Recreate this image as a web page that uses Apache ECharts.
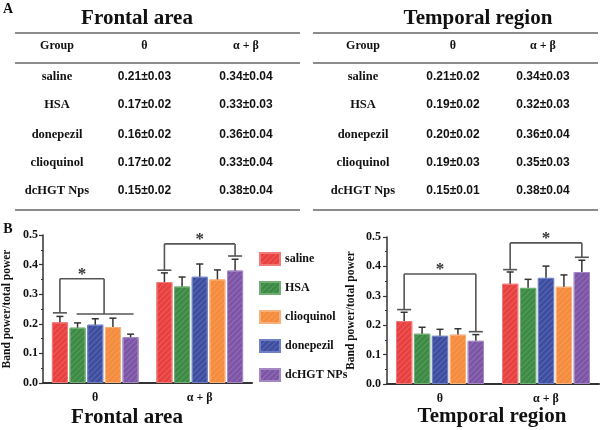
<!DOCTYPE html>
<html><head><meta charset="utf-8">
<script src="https://cdn.jsdelivr.net/npm/echarts@6/dist/echarts.min.js"></script>
<style>html,body{margin:0;padding:0;background:#fff}#c{width:600px;height:430px}</style>
</head><body><div id="c"></div>
<script>
// ---------- data ----------
const groups = ['saline', 'HSA', 'donepezil', 'clioquinol', 'dcHGT NPs'];      // bar order
const legendOrder = ['saline', 'HSA', 'clioquinol', 'donepezil', 'dcHGT NPs'];
const bands = ['θ', 'α + β'];
const colors = ['#e8403f', '#3c8a43', '#3d4ea0', '#f58b3c', '#7d55a6'];
const borderColors = ['#f07a78', '#6fae74', '#7180c4', '#f8b07a', '#a488c4'];

// bar chart values, per group: [θ, α+β]
const frontalMean = [[0.205, 0.341], [0.187, 0.326], [0.197, 0.359], [0.189, 0.350], [0.155, 0.380]];
const frontalErr  = [[0.020, 0.031], [0.016, 0.032], [0.020, 0.043], [0.030, 0.032], [0.010, 0.038]];
const temporalMean = [[0.214, 0.341], [0.171, 0.327], [0.164, 0.361], [0.168, 0.331], [0.147, 0.381]];
const temporalErr  = [[0.030, 0.040], [0.022, 0.029], [0.022, 0.040], [0.020, 0.040], [0.021, 0.040]];

// significance brackets: [category, leftBar, leftY, rightBarFrom, rightBarTo, rightY, topY]
const frontalSig  = [[0, 0, 0.237, 1, 4, 0.233, 0.352], [1, 0, 0.381, 4, 4, 0.429, 0.470]];
const temporalSig = [[0, 0, 0.253, 4, 4, 0.178, 0.374], [1, 0, 0.389, 4, 4, 0.431, 0.480]];

const yTicks = [0, 0.1, 0.2, 0.3, 0.4, 0.5];

// tables
const tableGroups = ['saline', 'HSA', 'donepezil', 'clioquinol', 'dcHGT Nps'];
const tableHeader = ['Group', 'θ', 'α + β'];
const tFrontalThetaM = [0.21, 0.17, 0.16, 0.17, 0.15];
const tFrontalThetaS = [0.03, 0.02, 0.02, 0.02, 0.02];
const tFrontalABM = [0.34, 0.33, 0.36, 0.33, 0.38];
const tFrontalABS = [0.04, 0.03, 0.04, 0.04, 0.04];
const tTemporalThetaM = [0.21, 0.19, 0.20, 0.19, 0.15];
const tTemporalThetaS = [0.02, 0.02, 0.02, 0.03, 0.01];
const tTemporalABM = [0.34, 0.32, 0.36, 0.35, 0.38];
const tTemporalABS = [0.03, 0.03, 0.04, 0.03, 0.04];

// ---------- layout / style ----------
const SERIF = 'Liberation Serif';
const SANS = 'Liberation Sans';
const INK = '#111';
const CAT_GAP = 0.17, BAR_GAP = 0.10, N = groups.length;

function barCenter(api, cat, i) {
  const c = api.coord([cat, 0])[0];
  const band = api.size([1, 0])[0];
  const usable = band * (1 - CAT_GAP);
  const bw = usable / (N + (N - 1) * BAR_GAP);
  return c - usable / 2 + i * bw * (1 + BAR_GAP) + bw / 2;
}

function txt(text, x, y, font, align) {
  return { type: 'text', silent: true, style: { text, x, y, font, fill: INK,
    align: align || 'center', verticalAlign: 'middle', textAlign: align || 'center', textVerticalAlign: 'middle' } };
}
function hline(x1, x2, y) {
  return { type: 'line', silent: true, shape: { x1, y1: y, x2, y2: y }, style: { stroke: '#8c8c8c', lineWidth: 2 } };
}
const fmt = (m, s) => m.toFixed(2) + '±' + s.toFixed(2);

function table(x1, x2, cols, rowYs, titleText, titleX, thM, thS, abM, abS) {
  const els = [];
  els.push(txt(titleText, titleX, 19, 'bold 21px ' + SERIF));
  els.push(hline(x1, x2, 33), hline(x1, x2, 63), hline(x1, x2, 210));
  tableHeader.forEach((h, k) => els.push(txt(h, cols[k], 46, 'bold 12px ' + SERIF)));
  tableGroups.forEach((g, r) => {
    els.push(txt(g, cols[0], rowYs[r], 'bold 12.5px ' + SERIF));
    els.push(txt(fmt(thM[r], thS[r]), cols[1], rowYs[r], 'bold 12px ' + SANS));
    els.push(txt(fmt(abM[r], abS[r]), cols[2], rowYs[r], 'bold 12px ' + SANS));
  });
  return els;
}
const rowYs = [77, 105, 134.5, 162.7, 190.7];

const graphics = [].concat(
  [txt('A', 8, 9, 'bold 14px ' + SERIF), txt('B', 8, 229, 'bold 14px ' + SERIF)],
  table(15, 300, [57, 144.5, 246], rowYs, 'Frontal area', 137, tFrontalThetaM, tFrontalThetaS, tFrontalABM, tFrontalABS),
  table(313, 598, [363, 453, 543], rowYs, 'Temporal region', 478, tTemporalThetaM, tTemporalThetaS, tTemporalABM, tTemporalABS),
  [txt('Frontal area', 127, 418, 'bold 21px ' + SERIF), txt('Temporal region', 492, 417, 'bold 21px ' + SERIF)]
);

function yAxis(gi, margin) {
  return {
    gridIndex: gi, type: 'value', min: yTicks[0], max: yTicks[yTicks.length - 1], interval: 0.1,
    name: 'Band power/total power', nameLocation: 'middle', nameGap: 30,
    nameTextStyle: { fontFamily: SERIF, fontWeight: 'bold', fontSize: 11.5, color: INK },
    axisLine: { show: true, lineStyle: { color: '#333', width: 1.5 } },
    axisTick: { show: true, length: 4, lineStyle: { color: '#333', width: 1.2 } },
    minorTick: { show: true, splitNumber: 2, length: 2, lineStyle: { color: '#333' } },
    splitLine: { show: false },
    axisLabel: { margin, fontFamily: SERIF, fontWeight: 'bold', fontSize: 12, color: INK, formatter: v => v.toFixed(1) }
  };
}
function xAxis(gi) {
  return {
    gridIndex: gi, type: 'category', data: bands,
    axisLine: { lineStyle: { color: '#333', width: 2 } }, axisTick: { show: false },
    axisLabel: { margin: 9, fontFamily: SERIF, fontWeight: 'bold', fontSize: 12, color: INK }
  };
}

function barSeries(gi, means) {
  return groups.map((g, i) => ({
    type: 'bar', name: g, xAxisIndex: gi, yAxisIndex: gi,
    barCategoryGap: (CAT_GAP * 100) + '%', barGap: (BAR_GAP * 100) + '%',
    data: means[i],
    itemStyle: { color: colors[i], borderColor: borderColors[i], borderWidth: 1,
      decal: { symbol: 'rect', symbolSize: 1, color: 'rgba(255,255,255,0.15)', dashArrayX: [1, 0], dashArrayY: [1, 3], rotation: -Math.PI / 4 } },
    silent: true
  }));
}

function errSeries(gi, means, errs) {
  const data = [];
  means.forEach((row, i) => row.forEach((m, c) => data.push([c, i, m, m + errs[i][c]])));
  return {
    type: 'custom', xAxisIndex: gi, yAxisIndex: gi, silent: true, z: 5,
    data, encode: { x: 0, y: 3 },
    renderItem(params, api) {
      const cat = api.value(0), i = api.value(1);
      const x = barCenter(api, cat, i);
      const y0 = api.coord([cat, api.value(2)])[1];
      const y1 = api.coord([cat, api.value(3)])[1];
      const st = { stroke: '#333', lineWidth: 1.5 };
      return { type: 'group', children: [
        { type: 'line', shape: { x1: x, y1: y0, x2: x, y2: y1 }, style: st },
        { type: 'line', shape: { x1: x - 3.5, y1: y1, x2: x + 3.5, y2: y1 }, style: st }
      ] };
    }
  };
}

function sigSeries(gi, sig) {
  return {
    type: 'custom', xAxisIndex: gi, yAxisIndex: gi, silent: true, z: 6,
    data: sig, encode: { x: 0, y: 6 },
    renderItem(params, api) {
      const cat = api.value(0);
      const st = { stroke: '#555', lineWidth: 1.6 };
      const Y = v => api.coord([cat, v])[1];
      const xl = barCenter(api, cat, api.value(1));
      const rf = api.value(3), rt = api.value(4);
      const xrf = barCenter(api, cat, rf), xrt = barCenter(api, cat, rt);
      const xr = (xrf + xrt) / 2;
      const yl = Y(api.value(2)), yr = Y(api.value(5)), yt = Y(api.value(6));
      const ch = [
        { type: 'line', shape: { x1: xl - 7, y1: yl, x2: xl + 7, y2: yl }, style: st },
        { type: 'line', shape: { x1: xl, y1: yl, x2: xl, y2: yt }, style: st },
        { type: 'line', shape: { x1: xl, y1: yt, x2: xr, y2: yt }, style: st },
        { type: 'line', shape: { x1: xr, y1: yt, x2: xr, y2: yr }, style: st },
        rf === rt
          ? { type: 'line', shape: { x1: xr - 7, y1: yr, x2: xr + 7, y2: yr }, style: st }
          : { type: 'line', shape: { x1: xrf - 1, y1: yr, x2: xrt + 3, y2: yr }, style: st },
        { type: 'text', style: { text: '*', x: (xl + xr) / 2, y: yt - 4, font: 'bold 17px ' + SERIF, fill: '#333',
          align: 'center', verticalAlign: 'middle', textAlign: 'center', textVerticalAlign: 'middle' } }
      ];
      return { type: 'group', children: ch };
    }
  };
}

const chart = echarts.init(document.getElementById('c'), null, { renderer: 'canvas' });
chart.setOption({
  animation: false,
  backgroundColor: '#fff',
  graphic: graphics,
  legend: {
    data: legendOrder, orient: 'vertical', left: 254, top: 247,
    itemWidth: 20, itemHeight: 12, itemGap: 15, icon: 'rect', selectedMode: false,
    textStyle: { fontFamily: SERIF, fontWeight: 'bold', fontSize: 12, color: INK }
  },
  grid: [
    { left: 42, right: 348, top: 235, bottom: 47 },
    { left: 387, right: 1, top: 237, bottom: 46 }
  ],
  xAxis: [xAxis(0), xAxis(1)],
  yAxis: [yAxis(0, 5), yAxis(1, 6)],
  series: [].concat(
    barSeries(0, frontalMean), barSeries(1, temporalMean),
    [errSeries(0, frontalMean, frontalErr), errSeries(1, temporalMean, temporalErr),
     sigSeries(0, frontalSig), sigSeries(1, temporalSig)]
  )
});
</script>
</body></html>
